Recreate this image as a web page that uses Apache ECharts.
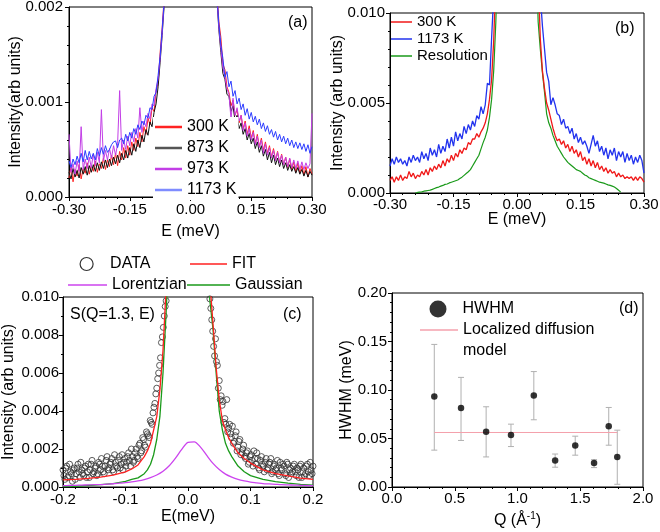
<!DOCTYPE html>
<html><head><meta charset="utf-8">
<script src="https://cdn.jsdelivr.net/npm/echarts@6.0.0/dist/echarts.min.js"></script>
<style>html,body{margin:0;padding:0;background:#fff}#chart{width:660px;height:532px}</style>
</head><body><div id="chart"></div>
<script>
// ---------- Panel (a) and (b): energy grid (meV) ----------
const eAB = [-0.300,-0.295,-0.290,-0.285,-0.280,-0.275,-0.270,-0.265,-0.260,-0.255,-0.250,-0.245,-0.240,-0.235,-0.230,-0.225,-0.220,-0.215,-0.210,-0.205,-0.200,-0.195,-0.190,-0.185,-0.180,-0.175,-0.170,-0.165,-0.160,-0.155,-0.150,-0.145,-0.140,-0.135,-0.130,-0.125,-0.120,-0.115,-0.110,-0.105,-0.100,-0.095,-0.090,-0.085,-0.080,-0.075,-0.070,-0.065,-0.060,-0.055,-0.050,0,0.050,0.055,0.060,0.065,0.070,0.075,0.080,0.085,0.090,0.095,0.100,0.105,0.110,0.115,0.120,0.125,0.130,0.135,0.140,0.145,0.150,0.155,0.160,0.165,0.170,0.175,0.180,0.185,0.190,0.195,0.200,0.205,0.210,0.215,0.220,0.225,0.230,0.235,0.240,0.245,0.250,0.255,0.260,0.265,0.270,0.275,0.280,0.285,0.290,0.295,0.300];

// Panel (a) intensities
const a300 = [.00020,.00032,.00016,.00029,.00022,.00034,.00019,.00030,.00025,.00036,.00024,.00033,.00027,.00038,.00026,.00035,.00030,.00041,.00029,.00039,.00032,.00044,.00034,.00046,.00033,.00048,.00039,.00052,.00041,.00054,.00044,.00058,.00049,.00062,.00053,.00068,.00058,.00074,.00066,.00083,.00076,.00094,.00090,.00112,.00120,.00152,.00178,.00210,.0025,.0030,.0036,
 .05,
 .0037,.0031,.0026,.0022,.00185,.00168,.00140,.00134,.00116,.00110,.00096,.00102,.00086,.00092,.00078,.00086,.00072,.00080,.00066,.00075,.00062,.00070,.00056,.00066,.00053,.00062,.00049,.00058,.00046,.00054,.00042,.00051,.00039,.00048,.00036,.00045,.00034,.00042,.00031,.00040,.00029,.00037,.00026,.00036,.00025,.00033,.00023,.00032,.00021,.00030,.00024];
const a873 = [.00026,.00019,.00030,.00021,.00028,.00020,.00031,.00024,.00032,.00023,.00033,.00026,.00034,.00027,.00036,.00028,.00037,.00030,.00039,.00031,.00040,.00033,.00042,.00035,.00044,.00036,.00046,.00039,.00049,.00041,.00052,.00044,.00056,.00048,.00060,.00052,.00065,.00058,.00071,.00065,.00079,.00074,.00089,.00098,.00116,.00142,.00170,.00202,.0024,.0029,.0035,
 .05,
 .0036,.0030,.0025,.0021,.00176,.00152,.00130,.00124,.00108,.00106,.00090,.00096,.00080,.00086,.00072,.00078,.00066,.00072,.00060,.00067,.00056,.00062,.00051,.00058,.00047,.00054,.00043,.00050,.00039,.00047,.00036,.00044,.00034,.00041,.00032,.00039,.00030,.00036,.00028,.00034,.00027,.00032,.00025,.00031,.00024,.00029,.00022,.00028,.00021,.00027,.00023];
const a973 = [.00066,.00026,.00035,.00024,.00038,.00027,.00074,.00029,.00040,.00030,.00042,.00031,.00045,.00033,.00047,.00036,.00092,.00038,.00049,.00039,.00051,.00041,.00054,.00044,.00056,.00112,.00049,.00060,.00050,.00064,.00054,.00068,.00058,.00072,.00062,.00094,.00068,.00080,.00074,.00088,.00082,.00098,.00096,.00114,.00124,.00146,.00172,.00206,.00245,.00295,.0035,
 .05,
 .0036,.0030,.0025,.00212,.00178,.00156,.00136,.00126,.00114,.00108,.00082,.00104,.00086,.00094,.00080,.00086,.00070,.00078,.00064,.00072,.00060,.00068,.00055,.00064,.00052,.00060,.00046,.00056,.00044,.00052,.00041,.00049,.00038,.00047,.00036,.00044,.00034,.00042,.00032,.00041,.00031,.00039,.00030,.00038,.00029,.00037,.00029,.00036,.00030,.00035,.00088];
const a1173 = [.00038,.00031,.00040,.00034,.00043,.00036,.00046,.00037,.00049,.00039,.00048,.00040,.00046,.00039,.00051,.00043,.00052,.00045,.00054,.00047,.00050,.00055,.00058,.00059,.00052,.00060,.00062,.00056,.00066,.00059,.00068,.00062,.00072,.00066,.00076,.00071,.00080,.00076,.00086,.00083,.00094,.00092,.00106,.00110,.00128,.00148,.00176,.00206,.0024,.0029,.0035,
 .05,
 .0036,.0030,.0025,.00215,.00182,.00160,.00146,.00126,.00132,.00116,.00122,.00106,.00112,.00098,.00104,.00092,.00098,.00086,.00093,.00082,.00089,.00079,.00085,.00076,.00082,.00072,.00078,.00069,.00075,.00066,.00071,.00063,.00069,.00060,.00066,.00058,.00064,.00056,.00062,.00054,.00060,.00052,.00058,.00051,.00057,.00050,.00056,.00048,.00055,.00046,.00053];

// Panel (b) intensities
const b300 = [.0007,.0009,.0006,.0009,.0007,.0010,.0007,.0009,.0008,.0012,.0009,.0011,.0008,.0010,.0009,.0012,.0010,.0013,.0010,.0014,.0012,.0015,.0013,.0016,.0014,.0018,.0015,.0019,.0017,.0021,.0018,.0022,.0020,.0024,.0022,.0025,.0024,.0028,.0027,.0030,.0030,.0033,.0031,.0034,.0036,.0039,.0044,.0052,.0063,.0085,.012,
 .05,
 .012,.0086,.0068,.0058,.0050,.0046,.0041,.0036,.0032,.0029,.0030,.0027,.0029,.0025,.0027,.0023,.0026,.0022,.0024,.0020,.0023,.0018,.0020,.0016,.0019,.0015,.0018,.0014,.0017,.0013,.0015,.0012,.0014,.0011,.0013,.0011,.0012,.0009,.0011,.0009,.0010,.0008,.0009,.0008,.0009,.0007,.0009,.0007,.0009,.0008,.0006];
const b1173 = [.0015,.0019,.0016,.0020,.0017,.0019,.0016,.0018,.0015,.0020,.0017,.0021,.0018,.0020,.0017,.0023,.0019,.0022,.0018,.0025,.0021,.0024,.0020,.0027,.0022,.0026,.0023,.0030,.0025,.0031,.0026,.0034,.0029,.0033,.0030,.0037,.0033,.0038,.0035,.0040,.0037,.0043,.0041,.0048,.0044,.0049,.0061,.0060,.0086,.011,.014,
 .05,
 .014,.011,.0093,.0080,.0067,.0062,.0049,.0053,.0049,.0044,.0043,.0038,.0041,.0036,.0037,.0033,.0036,.0030,.0033,.0028,.0031,.0027,.0029,.0026,.0022,.0027,.0032,.0026,.0029,.0023,.0026,.0021,.0025,.0019,.0024,.0021,.0025,.0018,.0023,.0020,.0023,.0017,.0022,.0018,.0021,.0016,.0020,.0017,.0021,.0018,.0011];
const bRes = [null,null,null,null,null,null,null,null,null,null,null,null,
 0,.00003,.00005,.00006,.0001,.00012,.00014,.00016,.0002,.00025,.0003,.00033,.00038,.00042,.00048,.0005,.00056,.0006,.00064,.00068,.00072,.0008,.00088,.00098,.00108,.00118,.0013,.0015,.0017,.0019,.0021,.00245,.0028,.0031,.0035,.0042,.0052,.0068,.0095,
 .05,
 .0095,.0080,.0067,.0056,.0044,.0039,.0036,.0032,.0029,.0026,.0024,.0022,.0020,.00185,.0017,.0016,.0015,.0014,.0013,.00125,.0012,.0011,.0010,.00095,.00085,.0008,.00075,.0007,.00065,.0006,.00058,.00055,.0005,.00045,.00042,.00038,.00033,.00025,.00015,.00005,
 null,null,null,null,null,null,null,null,null,null,null];

// ---------- Panel (c) ----------
const eCurve = [-0.20,-0.18,-0.16,-0.14,-0.12,-0.10,-0.09,-0.08,-0.07,-0.065,-0.06,-0.055,-0.05,-0.045,-0.04,-0.035,-0.03,0,0.03,0.035,0.04,0.045,0.05,0.055,0.06,0.065,0.07,0.08,0.09,0.10,0.12,0.14,0.16,0.18,0.20];
const fitC = [.00037,.0004,.00045,.00052,.00062,.0008,.00095,.00116,.0016,.0019,.0023,.003,.0037,.0051,.0072,.0105,.014,.08,.014,.0108,.0086,.0063,.0046,.0035,.003,.0026,.0023,.0018,.0015,.00126,.0009,.0007,.00058,.00047,.0004];
const gaussC = [.00002,.00004,.00008,.00012,.00018,.0003,.0004,.00048,.0007,.0009,.0012,.0017,.0025,.0037,.006,.0092,.013,.08,.013,.0098,.0083,.006,.004,.003,.0023,.0019,.0016,.0011,.0008,.0006,.0004,.00028,.0002,.00014,.0001];
const eLor = [-0.20,-0.19,-0.18,-0.17,-0.16,-0.15,-0.14,-0.13,-0.12,-0.11,-0.10,-0.09,-0.08,-0.07,-0.06,-0.05,-0.04,-0.03,-0.02,-0.01,0.00,0.01,0.02,0.03,0.04,0.05,0.06,0.07,0.08,0.09,0.10,0.11,0.12,0.13,0.14,0.15,0.16,0.17,0.18,0.19,0.20];
const lorC = [.00007,.00008,.00009,.0001,.00011,.00012,.00013,.00015,.00017,.0002,.00023,.00027,.00032,.00039,.00049,.00063,.00083,.00112,.00152,.00198,.00235,.00238,.0021,.00166,.00124,.00092,.00068,.00052,.0004,.00032,.00026,.00022,.00018,.00016,.00014,.00012,.00011,.0001,.00009,.00008,.00007];
const eData = [-0.200,-0.197,-0.194,-0.191,-0.188,-0.185,-0.182,-0.179,-0.176,-0.173,-0.170,-0.167,-0.164,-0.161,-0.158,-0.155,-0.152,-0.149,-0.146,-0.143,-0.140,-0.137,-0.134,-0.131,-0.128,-0.125,-0.122,-0.119,-0.116,-0.113,-0.110,-0.107,-0.104,-0.101,-0.098,-0.095,-0.092,-0.089,-0.086,-0.083,-0.080,-0.077,-0.074,-0.071,-0.068,-0.065,-0.062,-0.059,-0.056,-0.053,-0.050,-0.047,-0.044,-0.041,-0.038,-0.035,
 0.035,0.038,0.041,0.044,0.047,0.050,0.053,0.056,0.059,0.062,0.065,0.068,0.071,0.074,0.077,0.080,0.083,0.086,0.089,0.092,0.095,0.098,0.101,0.104,0.107,0.110,0.113,0.116,0.119,0.122,0.125,0.128,0.131,0.134,0.137,0.140,0.143,0.146,0.149,0.152,0.155,0.158,0.161,0.164,0.167,0.170,0.173,0.176,0.179,0.182,0.185,0.188,0.191,0.194,0.197,0.200,
 -0.1985,-0.1955,-0.1925,-0.1895,-0.1865,-0.1835,-0.1805,-0.1775,-0.1745,-0.1715,-0.1685,-0.1655,-0.1625,-0.1595,-0.1565,-0.1535,-0.1505,-0.1475,-0.1445,-0.1415,-0.1385,-0.1355,-0.1325,-0.1295,-0.1265,-0.1235,-0.1205,-0.1175,-0.1145,-0.1115,-0.1085,-0.1055,-0.1025,-0.0995,-0.0965,-0.0935,-0.0905,-0.0875,-0.0845,-0.0815,-0.0785,-0.0755,-0.0725,-0.0695,-0.0665,-0.0635,-0.0605,-0.0575,-0.0545,-0.0515,-0.0485,-0.0455,-0.0425,-0.0395,-0.0365,
 0.0365,0.0395,0.0425,0.0455,0.0485,0.0515,0.0545,0.0575,0.0605,0.0635,0.0665,0.0695,0.0725,0.0755,0.0785,0.0815,0.0845,0.0875,0.0905,0.0935,0.0965,0.0995,0.1025,0.1055,0.1085,0.1115,0.1145,0.1175,0.1205,0.1235,0.1265,0.1295,0.1325,0.1355,0.1385,0.1415,0.1445,0.1475,0.1505,0.1535,0.1565,0.1595,0.1625,0.1655,0.1685,0.1715,0.1745,0.1775,0.1805,0.1835,0.1865,0.1895,0.1925,0.1955,0.1985];
const sData = [.0009,.0004,.0011,.0006,.0008,.0003,.0010,.0007,.0012,.0005,.0009,.0006,.0011,.0008,.0005,.0012,.0007,.0010,.0006,.0013,.0009,.0011,.0007,.0014,.0009,.0012,.0015,.0008,.0013,.0010,.0016,.0012,.0009,.0015,.0013,.0018,.0011,.0016,.0014,.0020,.0015,.0023,.0019,.0025,.0021,.0028,.0026,.0034,.0039,.0044,.0052,.0060,.0068,.0079,.0090,.0098,
 .0099,.0088,.0074,.0078,.0064,.0056,.0048,.0045,.0036,.0046,.0031,.0028,.0032,.0024,.0029,.0021,.0025,.0018,.0022,.0015,.0019,.0013,.0017,.0011,.0015,.0018,.0010,.0014,.0012,.0008,.0015,.0010,.0013,.0007,.0011,.0009,.0014,.0006,.0010,.0012,.0007,.0013,.0005,.0010,.0008,.0012,.0006,.0009,.0011,.0005,.0010,.0007,.0012,.0006,.0009,.0011,
 .0006,.0010,.0005,.0012,.0007,.0009,.0004,.0010,.0008,.0013,.0007,.0010,.0005,.0012,.0009,.0014,.0008,.0011,.0007,.0012,.0015,.0008,.0011,.0016,.0010,.0013,.0009,.0017,.0011,.0014,.0010,.0017,.0013,.0011,.0016,.0014,.0020,.0013,.0018,.0016,.0022,.0018,.0026,.0022,.0029,.0027,.0035,.0033,.0042,.0049,.0057,.0064,.0076,.0084,.0095,
 .0094,.0082,.0069,.0066,.0052,.0046,.0043,.0034,.0033,.0029,.0033,.0026,.0023,.0027,.0019,.0024,.0017,.0020,.0016,.0018,.0012,.0016,.0014,.0019,.0012,.0015,.0009,.0016,.0011,.0013,.0009,.0012,.0015,.0008,.0012,.0010,.0007,.0013,.0009,.0011,.0006,.0012,.0009,.0007,.0011,.0008,.0010,.0005,.0012,.0008,.0006,.0011,.0008,.0013,.0007];

// ---------- Panel (d) ----------
const qVals   = [0.337, 0.55, 0.75, 0.948, 1.13, 1.30, 1.46, 1.61, 1.727, 1.795];
const hwhm    = [0.0934, 0.0814, 0.0569, 0.0535, 0.0944, 0.0272, 0.0427, 0.0248, 0.0627, 0.031];
const errHigh = [0.147, 0.113, 0.0827, 0.0648, 0.119, 0.034, 0.0524, 0.0282, 0.082, 0.0586];
const errLow  = [0.038, 0.048, 0.031, 0.0417, 0.0693, 0.0204, 0.0328, 0.020, 0.0431, 0.0028];
const modelQ  = [0.337, 1.795];
const modelHW = [0.0562, 0.0562];

// ---------- helpers ----------
const FONT = '"Liberation Sans", Arial, Helvetica, sans-serif';
const pairs = (xs, ys) => xs.map((x, i) => [x, ys[i]]);
const tickStyle = {color: '#000', width: 1};

function axis(g, min, max, interval, dec, name, nameGap, margin, minorSplit) {
  return {
    type: 'value', gridIndex: g, min, max, interval, name, nameLocation: 'middle', nameGap,
    nameMoveOverlap: false,
    nameTextStyle: {fontSize: 16, fontFamily: FONT, color: '#000',
      rich: {t: {fontSize: 16, fontFamily: FONT, color: '#000'}, sup: {fontSize: 10, fontFamily: FONT, color: '#000', padding: [0, 0, 9, 0]}}},
    axisLine: {show: true, onZero: false, lineStyle: tickStyle},
    axisTick: {show: true, inside: false, length: 4, lineStyle: tickStyle},
    minorTick: {show: true, splitNumber: minorSplit, length: 2, lineStyle: tickStyle},
    splitLine: {show: false}, minorSplitLine: {show: false},
    axisLabel: {color: '#000', fontSize: 15, fontFamily: FONT, margin, showMinLabel: true, showMaxLabel: true, hideOverlap: false,
      formatter: v => v.toFixed(dec)}
  };
}
const txt = (extra) => Object.assign({fontSize: 16, fontFamily: FONT, color: '#000', lineHeight: 16}, extra || {});
const gridBox = (l, t, w, h) => ({left: l, top: t, width: w, height: h, show: true, borderColor: '#000', borderWidth: 1,
  backgroundColor: 'transparent', containLabel: false, outerBoundsMode: 'none'});

const option = {
  animation: false,
  backgroundColor: '#fff',
  textStyle: {fontFamily: FONT},
  grid: [gridBox(69, 7, 243, 190), gridBox(390, 13, 254, 180), gridBox(63, 297, 250, 190), gridBox(392, 293, 251, 194)],
  xAxis: [
    axis(0, -0.3, 0.3, 0.15, 2, 'E (meV)', 27, 5, 5),
    axis(1, -0.3, 0.3, 0.15, 2, 'E (meV)', 19, 4, 5),
    axis(2, -0.2, 0.2, 0.1, 1, 'E(meV)', 22, 5, 5),
    axis(3, 0, 2, 0.5, 1, '{t|Q (Å}{sup|-1}{t|)}', 24, 4, 5)
  ],
  yAxis: [
    axis(0, 0, 0.002, 0.001, 3, 'Intensity(arb units)', 45, 6, 5),
    axis(1, 0, 0.01, 0.005, 3, 'Intensity (arb units)', 44, 5, 5),
    axis(2, 0, 0.01, 0.002, 3, 'Intensity (arb units)', 46, 4, 2),
    axis(3, 0, 0.2, 0.05, 2, 'HWHM (meV)', 37, 5, 5)
  ],
  legend: [
    {data: ['300 K', '873 K', '973 K', '1173 K'], orient: 'vertical', left: 153, top: 117, icon: 'rect',
     itemWidth: 27, itemHeight: 2.5, itemGap: 5, padding: [2, 2, 2, 2], backgroundColor: '#fff',
     selectedMode: false, textStyle: txt()},
    {data: ['b300', 'b1173', 'bRes'], orient: 'vertical', left: 391, top: 14, icon: 'rect',
     itemWidth: 21, itemHeight: 1.5, itemGap: 1, padding: 0, selectedMode: false,
     formatter: n => ({b300: '300 K', b1173: '1173 K', bRes: 'Resolution'}[n]),
     textStyle: txt({fontSize: 15})},
    {data: ['DATA'], left: 79.5, top: 256, icon: 'circle', itemWidth: 13, itemHeight: 13, padding: 0, selectedMode: false,
     itemStyle: {color: 'rgba(0,0,0,0)', borderColor: '#000', borderWidth: 1.2},
     textStyle: txt({padding: [0, 0, 0, 12]})},
    {data: ['FIT'], left: 190, top: 256, icon: 'rect', itemWidth: 37, itemHeight: 1.5, padding: 0, selectedMode: false, textStyle: txt()},
    {data: ['Lorentzian'], left: 68, top: 277, icon: 'rect', itemWidth: 39, itemHeight: 1.5, padding: 0, selectedMode: false, textStyle: txt()},
    {data: ['Gaussian'], left: 187, top: 277, icon: 'rect', itemWidth: 43, itemHeight: 1.5, padding: 0, selectedMode: false, textStyle: txt()},
    {data: ['HWHM'], left: 429.5, top: 300.5, icon: 'circle', itemWidth: 17, itemHeight: 17, padding: 0, selectedMode: false,
     itemStyle: {color: '#000'}, textStyle: txt({padding: [0, 0, 0, 11]})},
    {data: ['Localized diffusion'], left: 420, top: 322, icon: 'rect', itemWidth: 38, itemHeight: 1.5, padding: 0, selectedMode: false,
     textStyle: txt()}
  ],
  graphic: [
    {type: 'text', x: 288, y: 23, style: {text: '(a)', fontSize: 16, fontFamily: FONT, fill: '#000', align: 'left', verticalAlign: 'middle'}},
    {type: 'text', x: 615, y: 29, style: {text: '(b)', fontSize: 16, fontFamily: FONT, fill: '#000', align: 'left', verticalAlign: 'middle'}},
    {type: 'text', x: 70, y: 315, style: {text: 'S(Q=1.3, E)', fontSize: 16, fontFamily: FONT, fill: '#000', align: 'left', verticalAlign: 'middle'}},
    {type: 'text', x: 283, y: 315, style: {text: '(c)', fontSize: 16, fontFamily: FONT, fill: '#000', align: 'left', verticalAlign: 'middle'}},
    {type: 'text', x: 619, y: 309, style: {text: '(d)', fontSize: 16, fontFamily: FONT, fill: '#000', align: 'left', verticalAlign: 'middle'}},
    {type: 'text', x: 463, y: 351, style: {text: 'model', fontSize: 16, fontFamily: FONT, fill: '#000', align: 'left', verticalAlign: 'middle'}}
  ],
  series: [
    // (a)
    {type: 'line', name: '300 K', xAxisIndex: 0, yAxisIndex: 0, data: pairs(eAB, a300), symbol: 'none', lineStyle: {width: 1, color: '#ff2222'}, itemStyle: {color: '#ff2222'}},
    {type: 'line', name: '873 K', xAxisIndex: 0, yAxisIndex: 0, data: pairs(eAB, a873), symbol: 'none', lineStyle: {width: 1, color: '#111111'}, itemStyle: {color: '#555555'}},
    {type: 'line', name: '973 K', xAxisIndex: 0, yAxisIndex: 0, data: pairs(eAB, a973), symbol: 'none', lineStyle: {width: 1, color: '#c23ee6'}, itemStyle: {color: '#c23ee6'}},
    {type: 'line', name: '1173 K', xAxisIndex: 0, yAxisIndex: 0, data: pairs(eAB, a1173), symbol: 'none', lineStyle: {width: 1, color: '#2c3cff'}, itemStyle: {color: '#7f8cff'}},
    // (b)
    {type: 'line', name: 'bRes', xAxisIndex: 1, yAxisIndex: 1, data: pairs(eAB, bRes), symbol: 'none', lineStyle: {width: 1.2, color: '#1a9a1a'}, itemStyle: {color: '#1a9a1a'}},
    {type: 'line', name: 'b300', xAxisIndex: 1, yAxisIndex: 1, data: pairs(eAB, b300), symbol: 'none', lineStyle: {width: 1.3, color: '#f01818'}, itemStyle: {color: '#f01818'}},
    {type: 'line', name: 'b1173', xAxisIndex: 1, yAxisIndex: 1, data: pairs(eAB, b1173), symbol: 'none', lineStyle: {width: 1.3, color: '#2233ee'}, itemStyle: {color: '#2233ee'}},
    // (c)
    {type: 'scatter', name: 'DATA', xAxisIndex: 2, yAxisIndex: 2, data: pairs(eData, sData), symbol: 'circle', symbolSize: 6,
     itemStyle: {color: 'rgba(0,0,0,0)', borderColor: '#333', borderWidth: 1}},
    {type: 'line', name: 'Gaussian', xAxisIndex: 2, yAxisIndex: 2, data: pairs(eCurve, gaussC), symbol: 'none', lineStyle: {width: 1.3, color: '#1a9a1a'}, itemStyle: {color: '#1a9a1a'}},
    {type: 'line', name: 'Lorentzian', xAxisIndex: 2, yAxisIndex: 2, data: pairs(eLor, lorC), symbol: 'none', smooth: 0.3, lineStyle: {width: 1.3, color: '#cc44ee'}, itemStyle: {color: '#cc44ee'}},
    {type: 'line', name: 'FIT', xAxisIndex: 2, yAxisIndex: 2, data: pairs(eCurve, fitC), symbol: 'none', lineStyle: {width: 1.3, color: '#ff2020'}, itemStyle: {color: '#ff2020'}},
    // (d)
    {type: 'custom', name: 'errors', xAxisIndex: 3, yAxisIndex: 3, data: qVals.map((q, i) => [q, errLow[i], errHigh[i]]),
     encode: {x: 0, y: [1, 2]}, z: 1,
     renderItem: (params, api) => {
       const lo = api.coord([api.value(0), api.value(1)]);
       const hi = api.coord([api.value(0), api.value(2)]);
       const w = 3, st = {stroke: '#b0b0b0', lineWidth: 1};
       return {type: 'group', children: [
         {type: 'line', shape: {x1: lo[0], y1: lo[1], x2: hi[0], y2: hi[1]}, style: st},
         {type: 'line', shape: {x1: lo[0] - w, y1: lo[1], x2: lo[0] + w, y2: lo[1]}, style: st},
         {type: 'line', shape: {x1: hi[0] - w, y1: hi[1], x2: hi[0] + w, y2: hi[1]}, style: st}
       ]};
     }},
    {type: 'line', name: 'Localized diffusion', xAxisIndex: 3, yAxisIndex: 3, data: pairs(modelQ, modelHW), symbol: 'none', z: 2,
     lineStyle: {width: 1, color: '#f4a0ac'}, itemStyle: {color: '#f4a0ac'}},
    {type: 'scatter', name: 'HWHM', xAxisIndex: 3, yAxisIndex: 3, data: pairs(qVals, hwhm), symbol: 'circle', symbolSize: 6.5, z: 3,
     itemStyle: {color: '#000'}}
  ]
};

const chart = echarts.init(document.getElementById('chart'), null, {renderer: 'canvas'});
chart.setOption(option);
</script>
</body></html>
